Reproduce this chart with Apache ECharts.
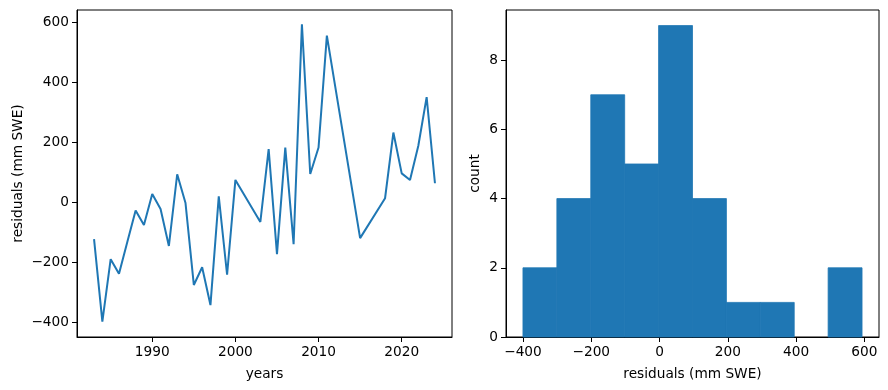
<!DOCTYPE html>
<html><head><meta charset="utf-8">
<script src="https://cdn.jsdelivr.net/npm/echarts@6/dist/echarts.min.js"></script>
<style>html,body{margin:0;padding:0;background:#fff}#c{width:888px;height:390px}</style>
</head><body><div id="c"></div>
<script>
const years = [1983,1984,1985,1986,1987,1988,1989,1990,1991,1992,1993,1994,1995,1996,1997,1998,1999,2000,
  2003,2004,2005,2006,2007,2008,2009,2010,2011,2015,2018,2019,2020,2021,2022,2023,2024];
const residuals = [-123,-398,-190,-239,-133,-28,-76,27,-23,-146,93,-3,-276,-217,-343,19,-242,74,
  -66,177,-173,182,-140,593,94,182,555,-120,13,232,96,74,188,350,63];
const yearTicks = [1990,2000,2010,2020];
const residTicks = [-400,-200,0,200,400,600];
const histEdges = [-400,-300.7,-201.4,-102.1,-2.8,96.5,195.8,295.1,394.4,493.7,593];
const histCounts = [2,4,7,5,9,4,1,1,0,2];
const countTicks = [0,2,4,6,8];

const FONT = 'DejaVu Sans';
const FS = 13.7;
const BLUE = '#1f77b4';
const lineData = years.map((y,i)=>[y,residuals[i]]);
const histData = histCounts.map((c,i)=>[histEdges[i],histEdges[i+1],c]);

function valAxis(extra){
  return Object.assign({
    type:'value', splitLine:{show:false},
    axisLine:{show:true,onZero:false,lineStyle:{color:'#000',width:1}},
    axisTick:{show:true,inside:false,length:5,lineStyle:{color:'#000',width:1}},
    axisLabel:{color:'#000',fontFamily:FONT,fontSize:FS,margin:8},
    nameTextStyle:{color:'#000',fontFamily:FONT,fontSize:FS},
    nameLocation:'middle'
  }, extra);
}
function withCustom(ax, vals, fmt){
  ax.axisTick.customValues = vals;
  ax.axisLabel.customValues = vals;
  if (fmt) ax.axisLabel.formatter = fmt;
  return ax;
}
const minusFmt = v => (v<0? '\u2212'+Math.abs(v) : String(v));

const chart = echarts.init(document.getElementById('c'), null, {renderer:'canvas'});
chart.setOption({
  animation:false,
  backgroundColor:'#fff',
  grid:[
    {left:77, right:436, top:10, bottom:53, show:true, borderColor:'#000', borderWidth:1, containLabel:false},
    {left:506, right:9, top:10, bottom:53, show:true, borderColor:'#000', borderWidth:1, containLabel:false}
  ],
  xAxis:[
    withCustom(valAxis({gridIndex:0,min:1980.95,max:2026.05,name:'years',nameGap:30}), yearTicks, v=>String(v)),
    withCustom(valAxis({gridIndex:1,min:-449.65,max:642.65,name:'residuals (mm SWE)',nameGap:30}), residTicks, minusFmt)
  ],
  yAxis:[
    withCustom(valAxis({gridIndex:0,min:-449.5,max:640.5,name:'residuals (mm SWE)',nameGap:52}), residTicks, minusFmt),
    withCustom(valAxis({gridIndex:1,min:0,max:9.45,name:'count',nameGap:24}), countTicks, v=>String(v))
  ],
  series:[
    {type:'line', xAxisIndex:0, yAxisIndex:0, data:lineData, showSymbol:false, symbol:'none',
     lineStyle:{color:BLUE,width:2}, z:3},
    {type:'custom', xAxisIndex:1, yAxisIndex:1, data:histData,
     encode:{x:[0,1], y:2},
     renderItem:function(params, api){
       if (api.value(2) <= 0) return null;
       const p0 = api.coord([api.value(0), 0]);
       const p1 = api.coord([api.value(1), api.value(2)]);
       return {type:'rect', shape:{x:p0[0], y:p1[1], width:p1[0]-p0[0], height:p0[1]-p1[1]},
               style:{fill:BLUE, stroke:BLUE, lineWidth:0.8}};
     }, z:1}
  ]
});
</script></body></html>
